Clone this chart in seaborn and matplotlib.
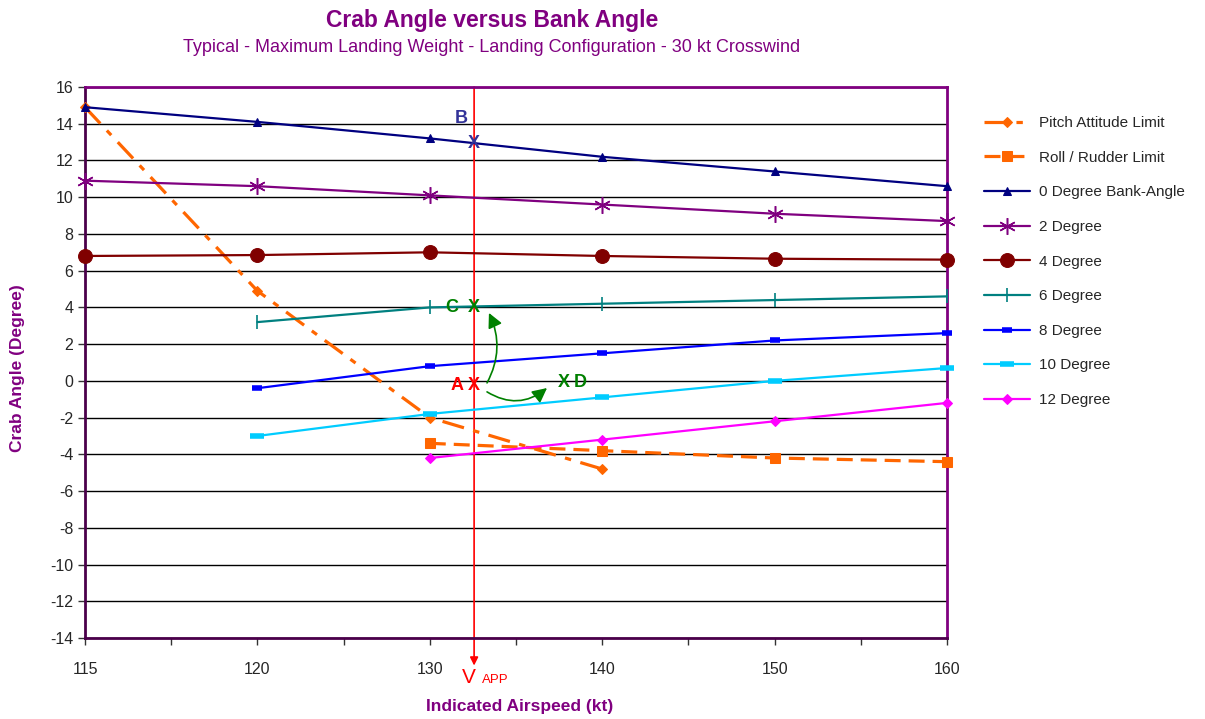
import numpy as np
import pandas as pd
import matplotlib
matplotlib.use("Agg")
import matplotlib.pyplot as plt
import seaborn as sns

# ---- data ----
speeds = [115, 120, 130, 140, 150, 160]
pitch_limit = [14.9, 4.9, -2.0, -4.8, np.nan, np.nan]
roll_limit = [np.nan, np.nan, -3.4, -3.8, -4.2, -4.4]
deg0 = [14.9, 14.1, 13.2, 12.2, 11.4, 10.6]
deg2 = [10.9, 10.6, 10.1, 9.6, 9.1, 8.7]
deg4 = [6.8, 6.85, 7.0, 6.8, 6.65, 6.6]
deg6 = [np.nan, 3.2, 4.0, 4.2, 4.4, 4.6]
deg8 = [np.nan, -0.4, 0.8, 1.5, 2.2, 2.6]
deg10 = [np.nan, -3.0, -1.8, -0.9, 0.0, 0.7]
deg12 = [np.nan, np.nan, -4.2, -3.2, -2.2, -1.2]
labels = ["Pitch Attitude Limit", "Roll / Rudder Limit", "0 Degree Bank-Angle",
          "2 Degree", "4 Degree", "6 Degree", "8 Degree", "10 Degree", "12 Degree"]
yticks = list(range(-14, 17, 2))
vapp_pos = 2.257  # category-axis position of V APP (~132.6 kt)

sns.set_style("white")
plt.rcParams['font.family'] = ['Liberation Sans', 'DejaVu Sans']
plt.rcParams['axes.unicode_minus'] = False

fig = plt.figure(figsize=(12.05, 7.19), dpi=100)
ax = fig.add_axes([85/1205, 1-638/719, (947-85)/1205, (638-87)/719])

pos = np.arange(len(speeds))
series = [pitch_limit, roll_limit, deg0, deg2, deg4, deg6, deg8, deg10, deg12]
styles = [
    dict(color="#FF6600", marker="D", markersize=5, linestyle=(0, (7, 3, 2, 3)), linewidth=2.3),
    dict(color="#FF6600", marker="s", markersize=7, linestyle=(0, (5, 2.5)), linewidth=2.3),
    dict(color="#000080", marker="^", markersize=6, linewidth=1.6),
    dict(color="#800080", marker=(6, 2, 0), markersize=12, markeredgewidth=1.1, linewidth=1.6),
    dict(color="#800000", marker="o", markersize=10, linewidth=1.6),
    dict(color="#008080", marker="|", markersize=10, markeredgewidth=1.2, linewidth=1.6),
    dict(color="#0000FF", marker="_", markersize=7, markeredgewidth=4, linewidth=1.6),
    dict(color="#00CCFF", marker="_", markersize=10, markeredgewidth=4, linewidth=1.6),
    dict(color="#FF00FF", marker="D", markersize=5, linewidth=1.6),
]
for vals, lab, st in zip(series, labels, styles):
    df = pd.DataFrame({"x": pos, "y": vals}).dropna()
    st = dict(st)
    sns.lineplot(data=df, x="x", y="y", ax=ax, label=lab, markeredgecolor=st["color"],
                 markerfacecolor=st["color"], clip_on=False, zorder=3, **st)

ax.set_xlim(0, 5)
ax.set_ylim(-14, 16)
ax.set_xticks(pos)
ax.set_xticklabels([str(s) for s in speeds], fontsize=11.5)
ax.set_xticks(pos[:-1] + 0.5, minor=True)
ax.set_yticks(yticks)
ax.set_yticklabels([str(t) for t in yticks], fontsize=11.5)
ax.yaxis.grid(True, color="#000000", linewidth=1.0)
ax.xaxis.grid(False)
ax.tick_params(axis="both", which="both", direction="out", length=5, width=1,
               bottom=True, left=True, color="#333333")
ax.tick_params(axis="x", pad=12)
ax.set_xlabel("")
ax.set_ylabel("")
for s, c in [("left", "#4B004B"), ("bottom", "#4B004B"), ("top", "#800080"), ("right", "#800080")]:
    ax.spines[s].set_visible(True)
    ax.spines[s].set_color(c)
    ax.spines[s].set_linewidth(2)

# V APP line
ax.annotate("", xy=(vapp_pos, -15.5), xytext=(vapp_pos, 16),
            arrowprops=dict(arrowstyle="-|>", color="#FF0000", lw=1.2, mutation_scale=12,
                            shrinkA=0, shrinkB=0), annotation_clip=False, zorder=2)
ax.text(2.228, -16.44, "V", color="#FF0000", fontsize=15, ha="center", va="baseline", clip_on=False)
ax.text(2.303, -16.44, "APP", color="#FF0000", fontsize=9.5, ha="left", va="baseline", clip_on=False)

# point annotations
ax.text(2.18, 14.26, "B", color="#333399", fontsize=13, fontweight="bold", ha="center", va="center")
ax.text(vapp_pos, 12.9, "X", color="#333399", fontsize=13, fontweight="bold", ha="center", va="center", zorder=5)
ax.text(2.13, 4.02, "C", color="#008000", fontsize=13, fontweight="bold", ha="center", va="center")
ax.text(vapp_pos, 4.02, "X", color="#008000", fontsize=13, fontweight="bold", ha="center", va="center", zorder=5)
ax.text(2.16, -0.25, "A", color="#FF0000", fontsize=13, fontweight="bold", ha="center", va="center")
ax.text(vapp_pos, -0.25, "X", color="#FF0000", fontsize=13, fontweight="bold", ha="center", va="center", zorder=5)
ax.text(2.78, -0.1, "X", color="#008000", fontsize=13, fontweight="bold", ha="center", va="center")
ax.text(2.87, -0.1, "D", color="#008000", fontsize=13, fontweight="bold", ha="center", va="center")
ax.annotate("", xy=(2.343, 3.7), xytext=(2.332, -0.11),
            arrowprops=dict(arrowstyle="-|>", color="#008000", lw=1.2, mutation_scale=22,
                            connectionstyle="arc3,rad=0.25", shrinkA=0, shrinkB=0))
ax.annotate("", xy=(2.68, -0.39), xytext=(2.332, -0.6),
            arrowprops=dict(arrowstyle="-|>", color="#008000", lw=1.2, mutation_scale=22,
                            connectionstyle="arc3,rad=0.35", shrinkA=0, shrinkB=0))

# titles and labels
fig.text(492/1205, 1-20/719, "Crab Angle versus Bank Angle", color="#800080", fontsize=16.5,
         fontweight="bold", ha="center", va="center")
fig.text(492/1205, 1-47/719, "Typical - Maximum Landing Weight - Landing Configuration - 30 kt Crosswind",
         color="#800080", fontsize=13, ha="center", va="center")
fig.text(520/1205, 1-707/719, "Indicated Airspeed (kt)", color="#800080", fontsize=12.5,
         fontweight="bold", ha="center", va="center")
fig.text(18/1205, 1-368/719, "Crab Angle (Degree)", color="#800080", fontsize=12.5,
         fontweight="bold", ha="center", va="center", rotation=90)

handles, labs = ax.get_legend_handles_labels()
if ax.get_legend() is not None:
    ax.get_legend().remove()
fig.legend(handles, labs, loc="upper left", bbox_to_anchor=(978/1205, 1-110/719),
           frameon=False, fontsize=11, handlelength=3, handletextpad=0.6,
           labelspacing=1.35, borderaxespad=0)

fig.savefig("out.png", dpi=100)
